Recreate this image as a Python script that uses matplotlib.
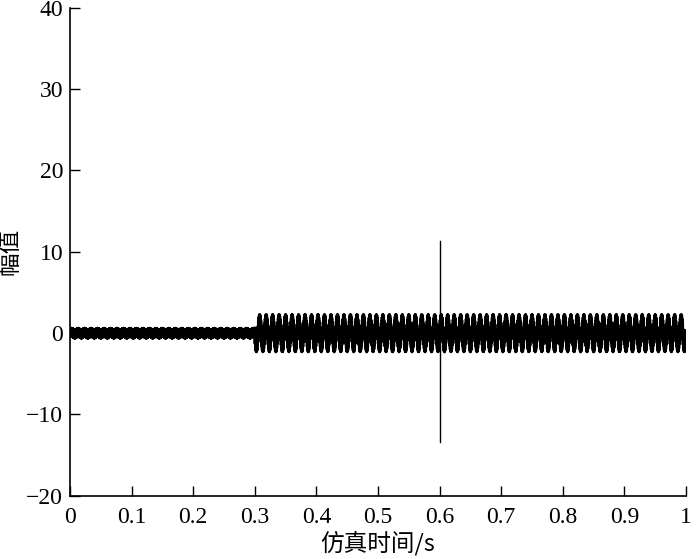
import numpy as np
import matplotlib
matplotlib.use("Agg")
import matplotlib.pyplot as plt

plt.rcParams['font.family'] = ['Liberation Serif', 'Noto Sans CJK SC']

# segment description
seg_start = [0.0, 0.3]
seg_end = [0.3, 1.0]
seg_amp_main = [0.1, 1.5]      # visible oscillation amplitude
seg_amp_ripple = [0.5, 0.8]    # dense ripple riding on it
seg_freq_main = [95.0, 95.0]
seg_freq_ripple = [1370.0, 1370.0]

spike_t = 0.6
spike_lo = -13.4
spike_hi = 11.3

xticks = [0, 0.1, 0.2, 0.3, 0.4, 0.5, 0.6, 0.7, 0.8, 0.9, 1]
xtick_labels = ["0", "0.1", "0.2", "0.3", "0.4", "0.5", "0.6", "0.7", "0.8", "0.9", "1"]
yticks = [-20, -10, 0, 10, 20, 30, 40]
ytick_labels = ["\u221220", "\u221210", "0", "10", "20", "30", "40"]

fig = plt.figure(figsize=(7.0, 5.59), dpi=100)
ax = fig.add_axes([0.1, 0.113, 0.88, 0.873])

for t0, t1, a1, a2, f1, f2 in zip(seg_start, seg_end, seg_amp_main, seg_amp_ripple,
                                 seg_freq_main, seg_freq_ripple):
    t = np.linspace(t0, t1, int((t1 - t0) * 40000))
    y = a1 * np.sin(2 * np.pi * f1 * t) + a2 * np.sin(2 * np.pi * f2 * t)
    ax.plot(t, y, color="black", linewidth=2.2)

ax.plot([spike_t, spike_t], [spike_lo, spike_hi], color="black", linewidth=1.0)

ax.set_xlim(0, 1)
ax.set_ylim(-20, 40)
ax.set_xticks(xticks)
ax.set_xticklabels(xtick_labels)
ax.set_yticks(yticks)
ax.set_yticklabels(ytick_labels)
ax.tick_params(direction="in", length=7, width=1, labelsize=17)
ax.tick_params(axis="x", pad=8)
ax.tick_params(axis="y", pad=5)
ax.spines["top"].set_visible(False)
ax.spines["right"].set_visible(False)
for s in ["left", "bottom"]:
    ax.spines[s].set_linewidth(1.2)

ax.set_xlabel("仿真时间/s", fontsize=17, labelpad=2, family=['Noto Sans CJK SC'])
ax.set_ylabel("幅值", fontsize=17, labelpad=3, family=['Noto Sans CJK SC'])

fig.savefig("out.png", dpi=100)
